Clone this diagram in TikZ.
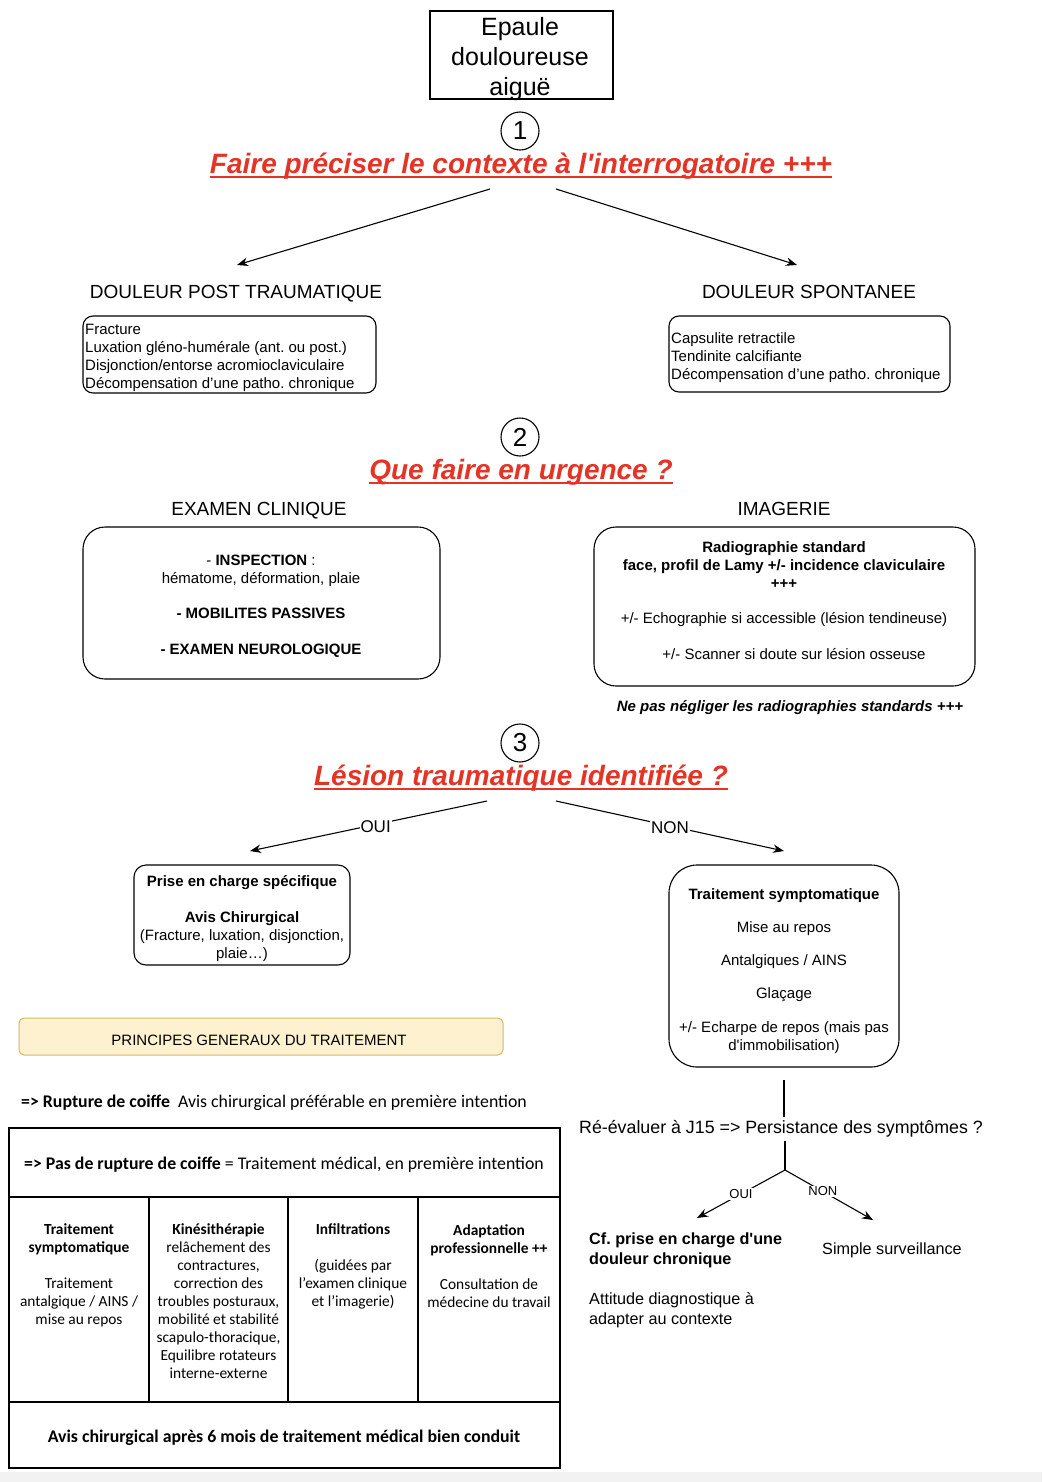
\documentclass[tikz,border=0pt]{standalone}
\usepackage{fontspec}
\setmainfont{Liberation Sans}
\newfontfamily\calfont{Carlito}
\usetikzlibrary{arrows.meta,calc}
\definecolor{redc}{RGB}{228,52,38}
\definecolor{yelf}{RGB}{253,241,207}
\definecolor{yeld}{RGB}{214,184,100}
\newcommand\myfs[2]{\fontsize{#1}{#2}\selectfont}
\newcommand\ap{{\addfontfeatures{Ligatures=TeXOff}'}}
\frenchspacing
\begin{document}
\begin{tikzpicture}[x=1pt,y=-1pt,
  rbox/.style={draw, line width=1.1pt, rounded corners=#1, inner sep=0pt},
  arr/.style={line width=1.1pt, -{Stealth[length=11pt,width=8.5pt]}},
  plain/.style={line width=1.1pt},
  num/.style={circle, draw, line width=1.1pt, minimum size=38pt, inner sep=0pt, font=\myfs{26}{30}},
  rtitle/.style={text=redc, inner sep=0pt, yshift=-3pt, font=\myfs{28}{32}\bfseries\itshape},
  head/.style={inner sep=0pt, yshift=-3pt, font=\myfs{19}{22}},
  txt/.style={inner sep=0pt, yshift=-3pt, font=\myfs{15}{18}},
  lbl/.style={fill=white, inner sep=1pt, yshift=-2pt, font=\myfs{17}{20}},
  slbl/.style={fill=white, inner sep=1pt, font=\myfs{13}{15}},
  ctxt/.style={inner sep=0pt, yshift=-2pt, align=center, font=\calfont\myfs{15.4}{18}},
  tline/.style={line width=1.6pt}
]
\useasboundingbox (0,0) rectangle (1042,1482);
\fill[white] (0,0) rectangle (1042,1482);
\fill[black!5] (0,1472) rectangle (1042,1482);

% top box
\node[draw, line width=1.1pt, minimum width=183pt, minimum height=88pt, inner sep=0pt] (top) at (521.5,55) {};
\node[inner sep=0pt, align=center, font=\myfs{25}{30}] (topt) at (520,59.5) {Epaule\\douloureuse\\aiguë};

% section 1
\node[num] (c1) at (520,131) {1};
\node[rtitle] (t1) at (521,163) {Faire préciser le contexte à l\ap interrogatoire +++};
\draw[redc, line width=2pt] ([yshift=-4pt]t1.base west) -- ([yshift=-4pt]t1.base east);
\coordinate (a1) at (490,189);
\coordinate (a1e) at (237,265);
\coordinate (a2) at (556,189);
\coordinate (a2e) at (797,265);
\draw[arr] (a1) -- (a1e);
\draw[arr] (a2) -- (a2e);

\node[head] (h1) at (236,291) {DOULEUR POST TRAUMATIQUE};
\node[head] (h2) at (809,289) {DOULEUR SPONTANEE};

\node[rbox=10pt, minimum width=293pt, minimum height=77pt] (b1) at (229.5,354.5) {};
\node[txt, anchor=west, align=left] (b1t) at (85,355) {Fracture\\Luxation gléno-humérale (ant. ou post.)\\Disjonction/entorse acromioclaviculaire\\Décompensation d’une patho. chronique};

\node[rbox=10pt, minimum width=281pt, minimum height=76pt] (b2) at (809.5,354) {};
\node[txt, anchor=west, align=left] (b2t) at (671,355) {Capsulite retractile\\Tendinite calcifiante\\Décompensation d’une patho. chronique};

% section 2
\node[num] (c2) at (520,437) {2};
\node[rtitle] (t2) at (521,469) {Que faire en urgence ?};
\draw[redc, line width=2pt] ([yshift=-4pt]t2.base west) -- ([yshift=-4pt]t2.base east);

\node[head] (h3) at (259,508) {EXAMEN CLINIQUE};
\node[head] (h4) at (784,506) {IMAGERIE};

\node[rbox=22pt, minimum width=357pt, minimum height=152pt] (b3) at (261.5,603) {};
\node[txt, align=center] (b3t) at (261,603.5) {- \textbf{INSPECTION} :\\hématome, déformation, plaie\\[17pt]\textbf{- MOBILITES PASSIVES}\\[18pt]\textbf{- EXAMEN NEUROLOGIQUE}};

\node[rbox=22pt, minimum width=381pt, minimum height=159pt] (b4) at (784.5,606.5) {};
\node[txt, align=center, yshift=2pt] (b4t) at (784,599.5) {\textbf{Radiographie standard}\\\textbf{face, profil de Lamy +/- incidence claviculaire}\\\textbf{+++}\\[17pt]+/- Echographie si accessible (lésion tendineuse)\\[18pt]\hspace*{20pt}+/- Scanner si doute sur lésion osseuse};

\node[txt, font=\myfs{15}{18}\bfseries\itshape] (n1) at (790,705) {Ne pas négliger les radiographies standards +++};

% section 3
\node[num] (c3) at (520,743) {3};
\node[rtitle] (t3) at (521,775) {Lésion traumatique identifiée ?};
\draw[redc, line width=2pt] ([yshift=-4pt]t3.base west) -- ([yshift=-4pt]t3.base east);

\coordinate (o1) at (487,801);
\coordinate (o1e) at (250,851);
\coordinate (o2) at (556,801);
\coordinate (o2e) at (784,851);
\draw[arr] (o1) -- node[lbl, pos=0.47] (oui1) {OUI} (o1e);
\draw[arr] (o2) -- node[lbl, pos=0.5] (non1) {NON} (o2e);

\node[rbox=12pt, minimum width=216pt, minimum height=100pt] (b5) at (242,915) {};
\node[txt, align=center] (b5t) at (242,915.5) {\textbf{Prise en charge spécifique}\\[18pt]\textbf{Avis Chirurgical}\\(Fracture, luxation, disjonction,\\plaie…)};

\node[rbox=28pt, minimum width=230pt, minimum height=202pt] (b6) at (784,966) {};
\node[txt, align=center] (b6t) at (784,968) {\textbf{Traitement symptomatique}\\[15pt]Mise au repos\\[15pt]Antalgiques / AINS\\[15pt]Glaçage\\[16pt]+/- Echarpe de repos (mais pas\\d\ap immobilisation)};

% re-evaluation
\coordinate (r0) at (784,1080);
\node[inner sep=0pt, font=\myfs{17.8}{21}] (r1) at (781,1129) {Ré-évaluer à J15 => Persistance des symptômes ?};
\coordinate (j) at (785,1170);
\draw[plain] (r0) -- ([yshift=3pt]r1.north -| r0);
\draw[plain] ([yshift=-3pt]r1.south -| j) -- (j);
\coordinate (oe) at (697,1218);
\coordinate (ne) at (873,1220);
\draw[arr] (j) -- node[slbl, pos=0.5] (oui2) {OUI} (oe);
\draw[arr] (j) -- node[slbl, pos=0.43] (non2) {NON} (ne);

\node[inner sep=0pt, anchor=west, align=left, yshift=-3pt, font=\myfs{16.2}{20}] (cf) at (589,1277.5) {\textbf{Cf. prise en charge d\ap une}\\\textbf{douleur chronique}\\[20pt]Attitude diagnostique à\\adapter au contexte};
\node[inner sep=0pt, yshift=-2pt, font=\myfs{16.2}{20}] (ss) at (892,1248) {Simple surveillance};

% principes
\node[draw=yeld, fill=yelf, line width=1pt, rounded corners=5pt, minimum width=484pt, minimum height=37pt, inner sep=0pt] (pr) at (261,1036.5) {};
\node[txt] (prt) at (259,1037) {PRINCIPES GENERAUX DU TRAITEMENT};

\node[inner sep=0pt, anchor=west, yshift=-2pt, font=\calfont\myfs{17.8}{21}] (rup) at (21,1101) {\textbf{=> Rupture de coiffe}\ \ Avis chirurgical préférable en première intention};

% table
\draw[tline] (9,1128) rectangle (560,1468);
\draw[tline] (9,1197) -- (560,1197);
\draw[tline] (9,1402) -- (560,1402);
\draw[tline] (149,1197) -- (149,1402);
\draw[tline] (288,1197) -- (288,1402);
\draw[tline] (418,1197) -- (418,1402);

\node[inner sep=0pt, yshift=-2pt, font=\calfont\myfs{17.8}{21}] (tr1) at (284,1163) {\textbf{=> Pas de rupture de coiffe} = Traitement médical, en première intention};
\node[ctxt] (tc1) at (79,1273.5) {\textbf{Traitement}\\\textbf{symptomatique}\\[18pt]Traitement\\antalgique / AINS /\\mise au repos};
\node[ctxt, yshift=1pt] (tc2) at (218.5,1300.5) {\textbf{Kinésithérapie}\\relâchement des\\contractures,\\correction des\\troubles posturaux,\\mobilité et stabilité\\scapulo-thoracique,\\Equilibre rotateurs\\interne-externe};
\node[ctxt] (tc3) at (353,1264.5) {\textbf{Infiltrations}\\[18pt](guidées par\\l’examen clinique\\et l’imagerie)};
\node[ctxt] (tc4) at (489,1264.5) {\textbf{Adaptation}\\\textbf{professionnelle ++}\\[18pt]Consultation de\\médecine du travail};
\node[inner sep=0pt, yshift=-2pt, font=\calfont\myfs{17.8}{21}\bfseries] (tr3) at (284,1436) {Avis chirurgical après 6 mois de traitement médical bien conduit};
\end{tikzpicture}
\end{document}
